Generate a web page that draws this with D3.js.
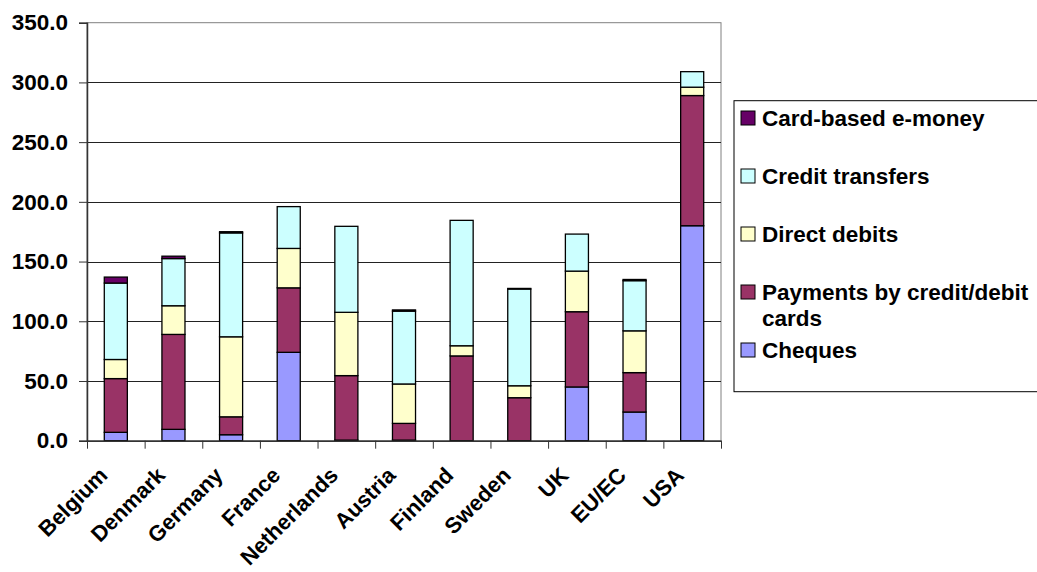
<!DOCTYPE html>
<html>
<head>
<meta charset="utf-8">
<script src="https://cdn.jsdelivr.net/npm/d3@7"></script>
<style>
    body { margin: 0; background: #fff; }
    svg text { font-family: "Liberation Sans", Arial, sans-serif; font-weight: bold; font-size: 22.5px; fill: #000; }
    svg text.country { font-size: 22px; }
</style>
</head>
<body>
<div id="chart"></div>
<script>
// data
var countries = ['Belgium', 'Denmark', 'Germany', 'France', 'Netherlands', 'Austria', 'Finland', 'Sweden', 'UK', 'EU/EC', 'USA'];
var cheques         = [7,   9.5,  5,  74, 0.5, 0.5, 0,   0,   45, 24, 180];
var cards           = [45,  79.5, 15, 54, 54,  14,  71,  36,  63, 33, 109];
var directDebits    = [16,  24,   67, 33, 53,  33,  8.5, 10,  34, 35, 7];
var creditTransfers = [64,  39.5, 87, 35, 72,  61,  105, 81,  31, 42, 13];
var eMoney          = [5,   2,    1,  0,  0,   1,   0,   0.5, 0,  1,  0];
var yTicks = [0, 50, 100, 150, 200, 250, 300, 350];

// series, bottom of the stack first
var series = [
    { key: 'cheques', label: ['Cheques'], values: cheques, color: '#9999FF' },
    { key: 'cards', label: ['Payments by credit/debit', 'cards'], values: cards, color: '#993366' },
    { key: 'directDebits', label: ['Direct debits'], values: directDebits, color: '#FFFFCC' },
    { key: 'creditTransfers', label: ['Credit transfers'], values: creditTransfers, color: '#CCFFFF' },
    { key: 'eMoney', label: ['Card-based e-money'], values: eMoney, color: '#660066' }
];

var W = 1037, H = 572;
var plot = { left: 87, right: 721, top: 22.7, bottom: 440.7 };

var svg = d3.select('#chart').append('svg')
    .attr('width', W)
    .attr('height', H);

// table for d3.stack
var table = countries.map(function(c, i) {
    var row = { country: c };
    series.forEach(function(s) { row[s.key] = s.values[i]; });
    return row;
});
var stacked = d3.stack().keys(series.map(function(s) { return s.key; }))(table);

var x = d3.scaleBand()
    .domain(countries)
    .range([plot.left, plot.right])
    .paddingInner(0.6)
    .paddingOuter(0.3);

var y = d3.scaleLinear()
    .domain([0, 350])
    .range([plot.bottom, plot.top]);

// plot area border (grey)
svg.append('rect')
    .attr('x', plot.left)
    .attr('y', plot.top)
    .attr('width', plot.right - plot.left)
    .attr('height', plot.bottom - plot.top)
    .attr('fill', 'none')
    .attr('stroke', '#808080')
    .attr('stroke-width', 1);

// gridlines
svg.append('g')
    .selectAll('line')
    .data(yTicks.filter(function(t) { return t > 0 && t < 350; }))
    .join('line')
    .attr('x1', plot.left)
    .attr('x2', plot.right)
    .attr('y1', function(d) { return Math.round(y(d)) + 0.5; })
    .attr('y2', function(d) { return Math.round(y(d)) + 0.5; })
    .attr('stroke', '#222')
    .attr('stroke-width', 1);

// bars
svg.append('g')
    .selectAll('g')
    .data(stacked)
    .join('g')
    .attr('fill', function(d, i) { return series[i].color; })
    .selectAll('rect')
    .data(function(d) { return d; })
    .join('rect')
    .attr('x', function(d) { return x(d.data.country); })
    .attr('y', function(d) { return y(d[1]); })
    .attr('width', x.bandwidth())
    .attr('height', function(d) { return y(d[0]) - y(d[1]); })
    .attr('stroke', '#000')
    .attr('stroke-width', 1.3);

// y axis
var yAxis = svg.append('g')
    .attr('transform', 'translate(' + plot.left + ',0)')
    .call(d3.axisLeft(y).tickValues(yTicks).tickFormat(d3.format('.1f')).tickSize(8).tickPadding(11));
yAxis.select('.domain').attr('stroke', '#333').attr('stroke-width', 1.5);
yAxis.selectAll('.tick line').attr('stroke', '#333');
yAxis.selectAll('text').attr('font-family', null).attr('font-size', null);

// x axis: ticks at category boundaries
var xEdges = d3.scaleLinear().domain([0, countries.length]).range([plot.left, plot.right]);
var xAxis = svg.append('g')
    .attr('transform', 'translate(0,' + plot.bottom + ')')
    .call(d3.axisBottom(xEdges).tickValues(d3.range(countries.length + 1)).tickFormat('').tickSize(8).tickSizeOuter(0));
xAxis.select('.domain').attr('stroke', '#333').attr('stroke-width', 1.5);
xAxis.selectAll('.tick line').attr('stroke', '#333');

// rotated country labels
svg.append('g')
    .selectAll('text')
    .data(countries)
    .join('text')
    .attr('class', 'country')
    .attr('text-anchor', 'end')
    .attr('transform', function(d) {
        return 'translate(' + (x(d) + x.bandwidth() / 2 - 7) + ',' + (plot.bottom + 36) + ') rotate(-45)';
    })
    .text(function(d) { return d; });

// legend
var legend = svg.append('g');
legend.append('rect')
    .attr('x', 734)
    .attr('y', 100.7)
    .attr('width', 400)
    .attr('height', 291)
    .attr('fill', '#fff')
    .attr('stroke', '#000')
    .attr('stroke-width', 1);

var items = legend.selectAll('g.item')
    .data(series.slice().reverse())
    .join('g')
    .attr('class', 'item')
    .attr('transform', function(d, i) { return 'translate(741,' + (126 + i * 58) + ')'; });

items.append('rect')
    .attr('x', 0)
    .attr('y', -15)
    .attr('width', 14)
    .attr('height', 14)
    .attr('fill', function(d) { return d.color; })
    .attr('stroke', '#000')
    .attr('stroke-width', 1);

items.append('text')
    .attr('x', 21)
    .attr('y', 0)
    .selectAll('tspan')
    .data(function(d) { return d.label; })
    .join('tspan')
    .attr('x', 21)
    .attr('dy', function(d, i) { return i === 0 ? 0 : 26; })
    .text(function(d) { return d; });
</script>
</body>
</html>
